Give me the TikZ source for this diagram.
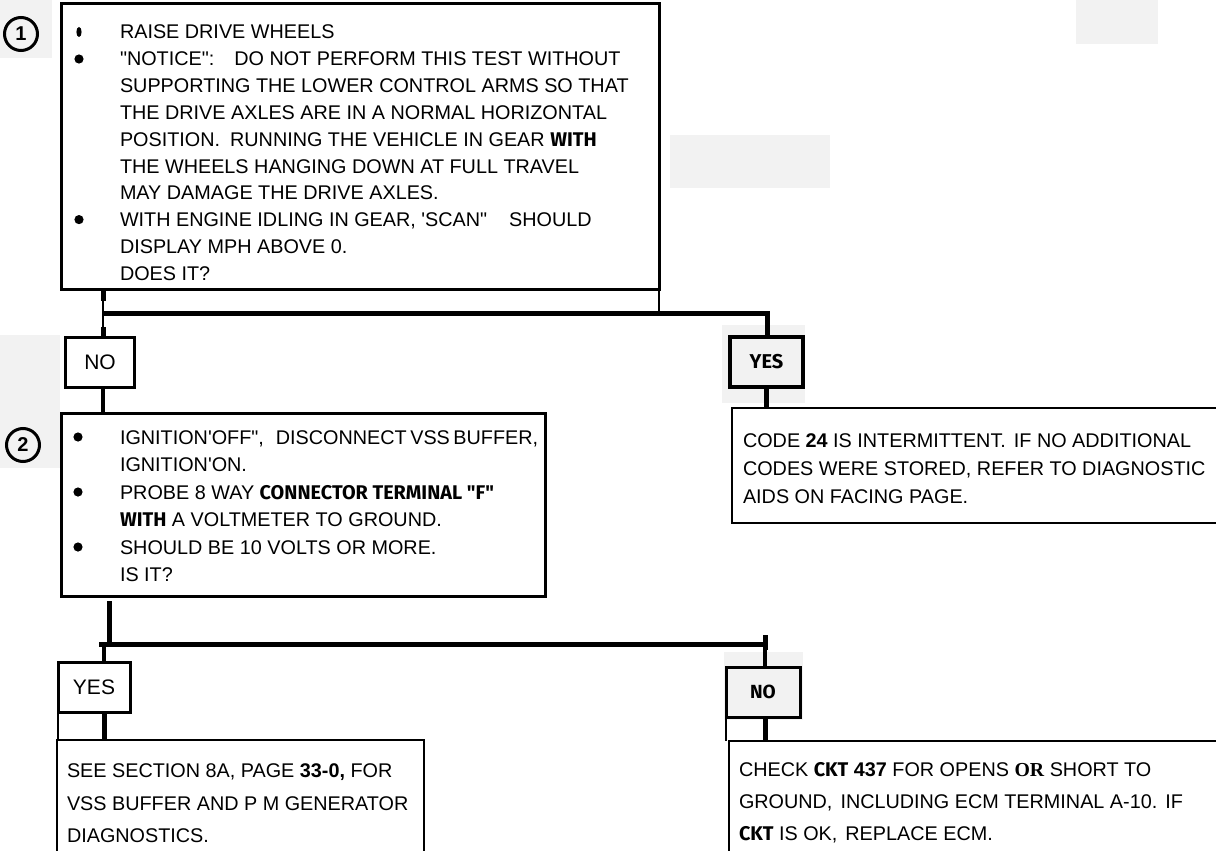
\documentclass[tikz,border=0pt]{standalone}
\usepackage{fontspec}
\usepackage{graphicx}
\setmainfont{Liberation Sans}[Ligatures=TeXOff]
\newfontfamily\oddfont{Fira Sans}
\newfontfamily\serifface{Liberation Serif}

\newcommand\bodyfont{\fontsize{19.8}{24}\selectfont}
\newcommand\labfont{\fontsize{21}{21}\selectfont}
\newcommand\heavylab{\oddfont\bfseries\fontsize{20}{20}\selectfont}
\newcommand\numfont{\fontsize{20}{20}\selectfont\bfseries}
\newcommand\odd[1]{{\oddfont\bfseries #1}}

\begin{document}
\begin{tikzpicture}[x=1pt,y=-1pt]
\tikzset{
  panel/.style={draw, line width=3pt, rectangle, anchor=north west, outer sep=0pt, inner sep=0pt, fill=white},
  verdict/.style={draw, line width=3pt, rectangle, anchor=center, outer sep=0pt, inner sep=0pt, font=\labfont},
  txtline/.style={anchor=base west, inner sep=0pt, outer sep=0pt, font=\bodyfont},
  heavy/.style={line width=5pt},
  medium/.style={line width=3.5pt},
  hair/.style={line width=1.8pt},
  stepnum/.style={inner sep=0pt, font=\numfont},
  ring/.style={line width=3pt},
  haze/.style={fill=black!5, draw=none},
  dot/.style={fill=black},
}
\path[use as bounding box] (0,0) rectangle (1216,851);
\clip (0,0) rectangle (1216,851);

% faint paper tone patches
\fill[haze] (0,0) rectangle (52,58);
\fill[haze] (1076,0) rectangle (1158,44);
\fill[haze] (670,135) rectangle (830,188);
\fill[haze] (722,325) rectangle (805,403);
\fill[haze] (0,335) rectangle (60,468);
\fill[haze] (724,652) rectangle (803,720);

% step markers
\node[stepnum] (n1) at (21,34) {1};
\node[stepnum] (n2) at (23,445) {2};
\draw[ring] (n1.center) circle (16.5);
\draw[ring] (n2.center) circle (16.5);

% main panels
\node[panel, minimum width=598pt, minimum height=285pt] (q1) at (61,4) {};
\node[panel, minimum width=484pt, minimum height=183pt] (q2) at (61,413) {};
\node[panel, line width=2.5pt, minimum width=498pt, minimum height=115pt] (r1) at (732,408) {};
\node[panel, line width=2.5pt, minimum width=367pt, minimum height=130pt] (r2) at (57,740) {};
\node[panel, line width=2.5pt, minimum width=500pt, minimum height=130pt] (r3) at (729,741) {};

% answer labels
\node[verdict, minimum width=69pt, minimum height=50pt] (no1) at (100,362) {NO};
\node[verdict, line width=3.5pt, minimum width=73pt, minimum height=50pt, font=\heavylab] (yes1) at (766.5,362) {YES};
\node[verdict, minimum width=72pt, minimum height=50pt] (yes2) at (94,687) {YES};
\node[verdict, minimum width=74pt, minimum height=50pt, font=\heavylab\fontsize{19}{19}\selectfont] (no2) at (763,692) {NO};

% junction points
\coordinate (s1a) at (103,301);
\coordinate (s1b) at (103,327);
\coordinate (s1) at (103,313);
\coordinate (e1) at (767,313);
\coordinate (t2) at (109,601);
\coordinate (h2l) at (99,644);
\coordinate (h2r) at (765,644);
\coordinate (d2) at (104,644);
\coordinate (k2a) at (765,635);
\coordinate (k2b) at (765,650);

% connectors from step 1
\draw[heavy] (q1.south -| s1a) -- (s1a);
\draw[hair] (s1a) -- (s1b);
\draw[heavy] (s1b) -- (s1b |- no1.north);
\draw[heavy] (s1) -- (e1) -- (e1 |- yes1.north);
\draw[hair] (q1.south east) -- (q1.south east |- e1);
\draw[medium] (s1b |- no1.south) -- (s1b |- q2.north);
\draw[heavy] (yes1.south) -- (yes1.south |- r1.north);

% connectors from step 2
\draw[heavy] (t2) -- (t2 |- h2l);
\draw[heavy] (h2l) -- (h2r);
\draw[heavy] (k2a) -- (k2b);
\draw[medium] (k2b) -- (k2b |- no2.north);
\draw[medium] (d2) -- (d2 |- yes2.north);
\draw[heavy] (d2 |- yes2.south) -- (d2 |- r2.north);
\draw[heavy] (k2b |- no2.south) -- (k2b |- r3.north);
\draw[line width=2.5pt] (yes2.south west) -- (yes2.south west |- r2.north);
\draw[line width=2.5pt] (no2.south west) -- (no2.south west |- r3.north);

% bullets
\fill[dot] (79,32) ellipse (2.6 and 5);
\fill[dot] (79,59) circle (4.6);
\fill[dot] (79,219.6) circle (4.6);
\fill[dot] (78,437) circle (4.6);
\fill[dot] (78,492) circle (4.6);
\fill[dot] (78,547) circle (4.6);

% step 1 text
\node[txtline] (a0) at (120,39) {RAISE DRIVE WHEELS};
\node[txtline] (a1) at (120,65.8) {"NOTICE":\hspace{20pt}DO NOT PERFORM THIS TEST WITHOUT};
\node[txtline] (a2) at (120,92.6) {SUPPORTING THE LOWER CONTROL ARMS SO THAT};
\node[txtline] (a3) at (120,119.4) {THE DRIVE AXLES ARE IN A NORMAL HORIZONTAL};
\node[txtline] (a4) at (120,146.2) {POSITION.\hspace{10pt}RUNNING THE VEHICLE IN GEAR \odd{WITH}};
\node[txtline] (a5) at (120,173) {THE WHEELS HANGING DOWN AT FULL TRAVEL};
\node[txtline] (a6) at (120,199.8) {MAY DAMAGE THE DRIVE AXLES.};
\node[txtline] (a7) at (120,226.6) {WITH ENGINE IDLING IN GEAR, 'SCAN"\hspace{22pt}SHOULD};
\node[txtline] (a8) at (120,253.4) {DISPLAY MPH ABOVE 0.};
\node[txtline] (a9) at (120,280.2) {DOES IT?};

% step 2 text
\node[txtline] (b0) at (120,444) {\spaceskip=3.5pt IGNITION'OFF",\hspace{12pt}DISCONNECT VSS BUFFER,};
\node[txtline] (b1) at (120,471.5) {IGNITION'ON.};
\node[txtline] (b2) at (120,499) {PROBE 8 WAY \odd{CONNECTOR TERMINAL "F"}};
\node[txtline] (b3) at (120,526.5) {\odd{WITH} A VOLTMETER TO GROUND.};
\node[txtline] (b4) at (120,554) {SHOULD BE 10 VOLTS OR MORE.};
\node[txtline] (b5) at (120,581.5) {IS IT?};

% outcome texts
\node[txtline] (c0) at (743,447) {CODE \textbf{24} IS INTERMITTENT.\hspace{8pt}IF NO ADDITIONAL};
\node[txtline] (c1) at (743,475) {CODES WERE STORED, REFER TO DIAGNOSTIC};
\node[txtline] (c2) at (743,503) {AIDS ON FACING PAGE.};

\node[txtline] (d0) at (67,777) {SEE SECTION 8A, PAGE \textbf{33-0,} FOR};
\node[txtline] (d1) at (67,810) {VSS BUFFER AND P M GENERATOR};
\node[txtline] (d2t) at (67,842) {DIAGNOSTICS.};

\node[txtline] (f0) at (739,776) {CHECK \odd{CKT} \textbf{437} FOR OPENS {\serifface\bfseries OR} SHORT TO};
\node[txtline] (f1) at (739,808) {GROUND,\hspace{8pt}INCLUDING ECM TERMINAL A-10.\hspace{8pt}IF};
\node[txtline] (f2) at (739,840) {\odd{CKT} IS OK,\hspace{8pt}REPLACE ECM.};
\end{tikzpicture}
\end{document}
